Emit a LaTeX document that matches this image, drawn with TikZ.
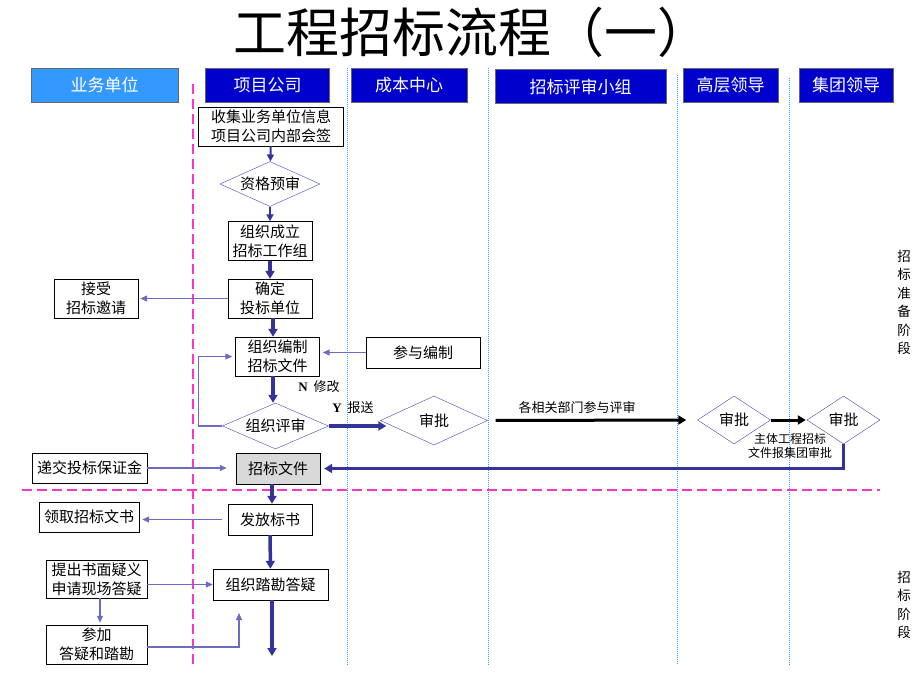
\documentclass[tikz,border=0pt]{standalone}
\usepackage{fontspec}
\setmainfont{Noto Sans CJK SC}
\newfontfamily\serifbf{Liberation Serif}
\usetikzlibrary{shapes.geometric,arrows.meta}
\definecolor{laneblue}{HTML}{0000CC}
\definecolor{firstlane}{HTML}{3399FF}
\definecolor{flowblue}{HTML}{333399}
\definecolor{thinblue}{HTML}{6C6CC0}
\definecolor{edgeblue}{HTML}{4646B4}
\definecolor{dotblue}{HTML}{3399FF}
\definecolor{stagepink}{HTML}{FF33CC}

\begin{document}
\begin{tikzpicture}[x=1pt, y=-1pt,
    head/.style={draw=gray!80!black, fill=laneblue, text=white, inner sep=0pt,
        font=\fontsize{17}{20}\selectfont},
    box/.style={draw=black, fill=white, inner sep=0pt, align=center,
        font=\fontsize{15}{19}\selectfont},
    choice/.style={diamond, aspect=2.2, draw=edgeblue, fill=white, inner sep=0pt,
        font=\fontsize{15}{19}\selectfont},
    note/.style={inner sep=0pt, font=\fontsize{13}{15}\selectfont},
    flow/.style={draw=flowblue, line width=2pt, -{Triangle[length=7pt,width=7pt]}},
    bigflow/.style={draw=flowblue, line width=3.5pt, -{Triangle[length=8pt,width=9pt]}},
    thinflow/.style={draw=thinblue, line width=1.2pt, -{Triangle[length=7pt,width=6pt]}},
    blackflow/.style={draw=black, line width=3pt, -{Triangle[length=8pt,width=9pt]}},
    lane/.style={draw=dotblue, line width=1pt, dash pattern=on 1pt off 1pt},
    stage/.style={draw=stagepink, line width=2pt, dash pattern=on 10pt off 5pt},
]
    \useasboundingbox (0,0) rectangle (920,690);

    % title
    \node[font=\fontsize{53}{60}\selectfont] (title) at (472,32) {工程招标流程（一）};

    % lanes
    \foreach \lx/\ly in {347/68, 488/68, 677/75, 789/78}
        \draw[lane] (\lx,\ly) -- (\lx,665);
    \draw[stage] (193,84) -- (193,668);
    \draw[stage] (22,490) -- (880,490);

    \node[head, fill=firstlane, minimum width=147, minimum height=34] (hbiz) at (104.5,85) {业务单位};
    \node[head, minimum width=124, minimum height=34] (hproj) at (267.5,85) {项目公司};
    \node[head, minimum width=116, minimum height=34] (hcost) at (409,85) {成本中心};
    \node[head, minimum width=171, minimum height=34] (hjury) at (580.5,86.5) {招标评审小组};
    \node[head, minimum width=95, minimum height=34] (hboss) at (730.5,85) {高层领导};
    \node[head, minimum width=94, minimum height=34] (hgroup) at (846,85.5) {集团领导};

    % steps
    \node[box, minimum width=145, minimum height=39] (collect) at (271,126.5) {收集业务单位信息\\项目公司内部会签};
    \node[choice, minimum width=100, minimum height=45] (qual) at (270,184) {资格预审};
    \node[box, minimum width=84, minimum height=39] (team) at (270,241) {组织成立\\招标工作组};
    \node[box, minimum width=84, minimum height=39] (select) at (270,298.5) {确定\\投标单位};
    \node[box, minimum width=84, minimum height=39] (accept) at (96,298.5) {接受\\招标邀请};
    \node[box, minimum width=84, minimum height=39] (compile) at (277.5,356.5) {组织编制\\招标文件};
    \node[box, minimum width=114, minimum height=31] (join) at (423,352.5) {参与编制};
    \node[choice, minimum width=106, minimum height=46] (review) at (275.5,426) {组织评审};
    \node[choice, minimum width=107, minimum height=49] (approveA) at (434,420.5) {审批};
    \node[choice, minimum width=73, minimum height=48] (approveB) at (734,420) {审批};
    \node[choice, minimum width=73, minimum height=48] (approveC) at (843.5,420) {审批};
    \node[box, fill=gray!30, minimum width=84, minimum height=31] (docs) at (278,468.5) {招标文件};
    \node[box, minimum width=115, minimum height=30] (deposit) at (89.5,468) {递交投标保证金};
    \node[box, minimum width=84, minimum height=31] (issue) at (270,519.5) {发放标书};
    \node[box, minimum width=100, minimum height=30] (fetch) at (89,517) {领取招标文书};
    \node[box, minimum width=115, minimum height=31] (survey) at (270.5,584.5) {组织踏勘答疑};
    \node[box, minimum width=101, minimum height=38] (query) at (96.5,579) {提出书面疑义\\申请现场答疑};
    \node[box, minimum width=101, minimum height=39] (attend) at (96.5,644.5) {参加\\答疑和踏勘};

    % labels
    \node[note] (fixlbl) at (319,387) {{\serifbf\bfseries N}\hspace{6pt}修改};
    \node[note] (sendlbl) at (353,408) {{\serifbf\bfseries Y}\hspace{6pt}报送};
    \node[note] (deptlbl) at (577,408) {各相关部门参与评审};
    \node[note, align=center, font=\fontsize{12}{14}\selectfont] (grouplbl) at (790,445.5) {主体工程招标\\文件报集团审批};
    \node[note, align=center, font=\fontsize{13.5}{18.5}\selectfont] (prepstage) at (904,302.5) {招\\标\\准\\备\\阶\\段};
    \node[note, align=center, font=\fontsize{13.5}{18.5}\selectfont] (bidstage) at (904,605) {招\\标\\阶\\段};

    % connectors
    \draw[flow] (collect) -- (qual);
    \draw[flow] (qual) -- (team);
    \draw[bigflow] (team) -- (select);
    \draw[thinflow, shorten >=2pt] (select) -- (accept);
    \draw[bigflow] ([xshift=3pt]select.south) -- ([xshift=3pt]select.south |- compile.north);
    \draw[thinflow, shorten >=3pt] (join.west) -- (join.west -| compile.east);
    \draw[bigflow] ([xshift=-4.5pt]compile.south) -- ([xshift=-4.5pt]compile.south |- review.north);
    \draw[thinflow] (review.west) -- ++(-24,0) |- ([xshift=-3pt]compile.west);
    \draw[bigflow] (review.east) -- ([xshift=6pt]review.east -| approveA.west);
    \draw[blackflow, shorten <=8pt, shorten >=11pt] (approveA.east) -- (approveB.west);
    \draw[blackflow, shorten >=1pt] (approveB) -- (approveC);
    \draw[bigflow, shorten >=4pt] (approveC.south) |- (docs.east);
    \draw[thinflow, shorten >=9pt] (deposit.east) -- (deposit.east -| docs.west);
    \draw[bigflow] ([xshift=-6pt]docs.south) -- ([xshift=-6pt]docs.south |- issue.north);
    \draw[thinflow, shorten <=6pt, shorten >=3pt] (issue.west) -- (issue.west -| fetch.east);
    \draw[bigflow] (issue) -- (survey);
    \draw[thinflow] (survey.west -| query.east) -- (survey.west);
    \draw[thinflow, shorten >=2pt] ([xshift=3.5pt]query.south) -- ([xshift=3.5pt]attend.north);
    \coordinate (surveyin) at (239,613);
    \draw[thinflow] ([yshift=-2.5pt]attend.east) -| (surveyin);
    \coordinate (flowend) at (272,656);
    \draw[bigflow] (survey.south -| flowend) -- (flowend);
\end{tikzpicture}
\end{document}
